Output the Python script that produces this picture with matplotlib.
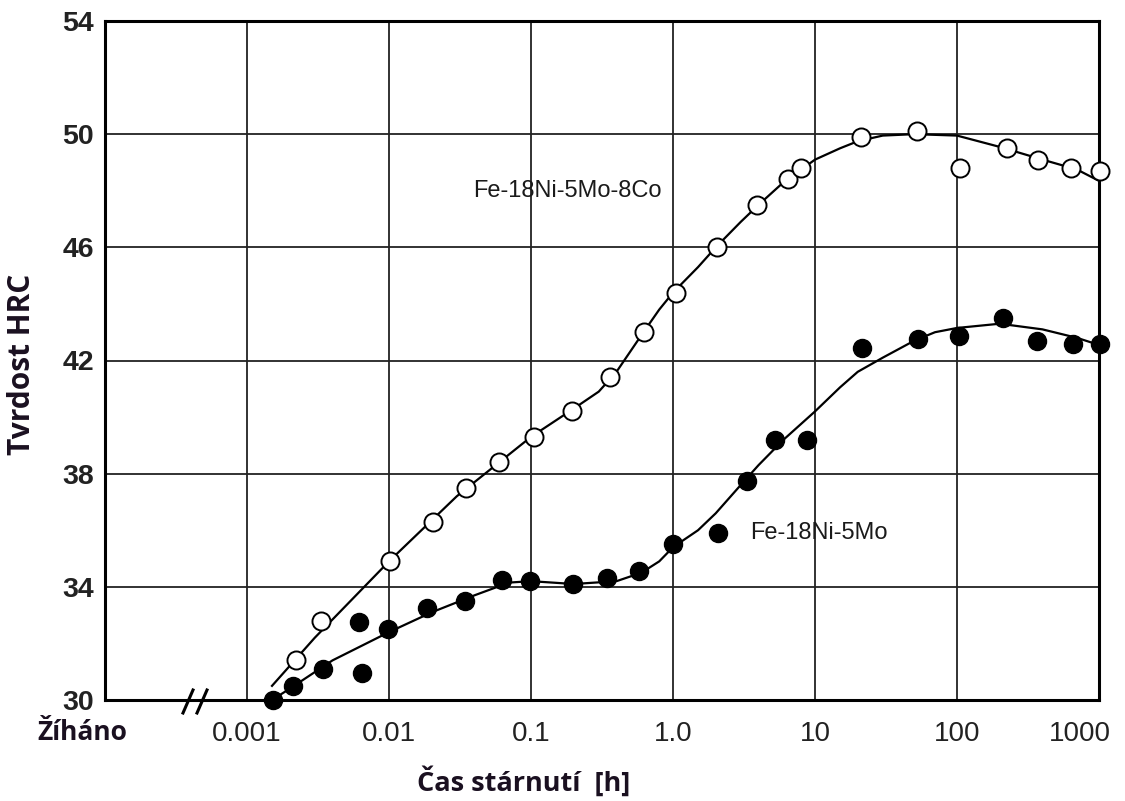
import numpy as np
import matplotlib.pyplot as plt
from matplotlib.transforms import ScaledTranslation

# Fe-18Ni-5Mo-8Co (open circles)
co_t = [0.00221, 0.00332, 0.0102, 0.0204, 0.0348, 0.0596, 0.105, 0.194, 0.360, 0.625,
        1.05, 2.04, 3.91, 6.46, 7.96, 21.1, 52.3, 105, 225, 372, 635, 1016]
co_hrc = [31.4, 32.8, 34.9, 36.3, 37.5, 38.4, 39.3, 40.2, 41.4, 43.0,
          44.4, 46.0, 47.5, 48.4, 48.8, 49.9, 50.1, 48.8, 49.5, 49.1, 48.8, 48.7]
co_curve_t = [0.0015, 0.003, 0.01, 0.03, 0.1, 0.2, 0.3, 0.4, 0.6, 0.8, 1.0, 1.5, 2.0,
              3.0, 4.0, 6.0, 8.0, 10, 15, 20, 30, 50, 100, 200, 400, 700, 1000]
co_curve_hrc = [30.5, 32.2, 34.9, 37.2, 39.3, 40.3, 40.9, 41.6, 42.9, 43.8, 44.4, 45.3,
                46.0, 46.9, 47.5, 48.3, 48.75, 49.1, 49.5, 49.75, 49.95, 50.0, 49.95, 49.55,
                49.1, 48.75, 48.35]

# Fe-18Ni-5Mo (filled circles)
mo_t = [0.00152, 0.00211, 0.00343, 0.00615, 0.00646, 0.00984, 0.0185, 0.0343, 0.0625,
        0.0985, 0.198, 0.343, 0.576, 1.0, 2.07, 3.32, 5.23, 8.79, 21.4, 53.1, 103,
        211, 366, 656, 1016]
mo_hrc = [30.0, 30.5, 31.1, 32.75, 30.95, 32.5, 33.25, 33.5, 34.25,
          34.2, 34.1, 34.3, 34.55, 35.5, 35.9, 37.75, 39.2, 39.2, 42.45, 42.75, 42.85,
          43.5, 42.7, 42.6, 42.6]
mo_curve_t = [0.0015, 0.002, 0.004, 0.01, 0.02, 0.04, 0.07, 0.1, 0.2, 0.4, 0.6, 0.8, 1.0,
              1.5, 2.0, 3.0, 4.0, 6.0, 10, 15, 20, 30, 50, 70, 100, 200, 400, 700, 1000]
mo_curve_hrc = [30.0, 30.4, 31.4, 32.4, 33.1, 33.7, 34.15, 34.2, 34.1, 34.2, 34.5, 34.9,
                35.4, 36.0, 36.6, 37.6, 38.3, 39.2, 40.2, 41.05, 41.6, 42.1, 42.7, 43.0,
                43.15, 43.3, 43.1, 42.8, 42.55]

x_ticks = [0.001, 0.01, 0.1, 1.0, 10, 100, 1000]
x_labels = ['0.001', '0.01', '0.1', '1.0', '10', '100', '1000']
y_ticks = [30, 34, 38, 42, 46, 50, 54]

fig = plt.figure(figsize=(11.25, 8.01), dpi=100)
ax = fig.add_axes([105 / 1125, 101 / 801, 994 / 1125, 679 / 801])

ax.set_xscale('log')
ax.set_xlim(1e-4, 1e3)
ax.set_ylim(30, 54)

for xv in x_ticks[:-1]:
    ax.axvline(xv, color='#222222', lw=1.3, zorder=1)
for yv in y_ticks[1:-1]:
    ax.axhline(yv, color='#222222', lw=1.3, zorder=1)

ax.plot(co_curve_t, co_curve_hrc, color='black', lw=1.6, zorder=2)
ax.plot(mo_curve_t, mo_curve_hrc, color='black', lw=1.6, zorder=2)
ax.plot(co_t, co_hrc, 'o', ms=13, mfc='white', mec='black', mew=1.4, zorder=3,
        clip_on=False)
ax.plot(mo_t, mo_hrc, 'o', ms=13, mfc='black', mec='black', zorder=3, clip_on=False)

ax.text(0.0391, 48.0, 'Fe-18Ni-5Mo-8Co', fontsize=17, family='Liberation Sans',
        color='#1a1a1a', ha='left', va='center')
ax.text(3.48, 35.9, 'Fe-18Ni-5Mo', fontsize=17, family='Liberation Sans',
        color='#1a1a1a', ha='left', va='center')

ax.set_xticks(x_ticks)
ax.set_xticklabels(x_labels)
ax.minorticks_off()
ax.set_yticks(y_ticks)
ax.tick_params(axis='both', length=0)
ax.tick_params(axis='x', pad=15, labelsize=20, labelcolor='#222222')
ax.tick_params(axis='y', pad=8, labelsize=20.5, labelcolor='#222222')
for lab in ax.get_xticklabels():
    lab.set_family('Liberation Sans')
for lab in ax.get_yticklabels():
    lab.set_family('Liberation Sans')
    lab.set_fontweight('bold')

# the "1000" label sits a bit left of the right border
last = ax.get_xticklabels()[-1]
last.set_transform(last.get_transform() + ScaledTranslation(-0.19, 0, fig.dpi_scale_trans))

for sp in ax.spines.values():
    sp.set_linewidth(2.2)
    sp.set_color('black')

# axis break marks
for x0 in [183, 197]:
    fig.add_artist(plt.Line2D([x0 / 1125, (x0 + 10) / 1125],
                              [1 - 713 / 801, 1 - 690 / 801],
                              color='black', lw=2.2))

fig.text(37 / 1125, 1 - 733 / 801, 'Žíháno', fontsize=19, fontweight='bold',
         family='Open Sans', ha='left', va='center', color='#1a1020')
fig.text(22 / 1125, 1 - 364 / 801, 'Tvrdost HRC', fontsize=21.5, fontweight='bold',
         family='Open Sans', rotation=90, ha='center', va='center', color='#1a1020')
fig.text(524 / 1125, 1 - 781 / 801, 'Čas stárnutí  [h]', fontsize=19.5, fontweight='bold',
         family='Open Sans', ha='center', va='center', color='#1a1020')

fig.savefig('out.png', dpi=100)
